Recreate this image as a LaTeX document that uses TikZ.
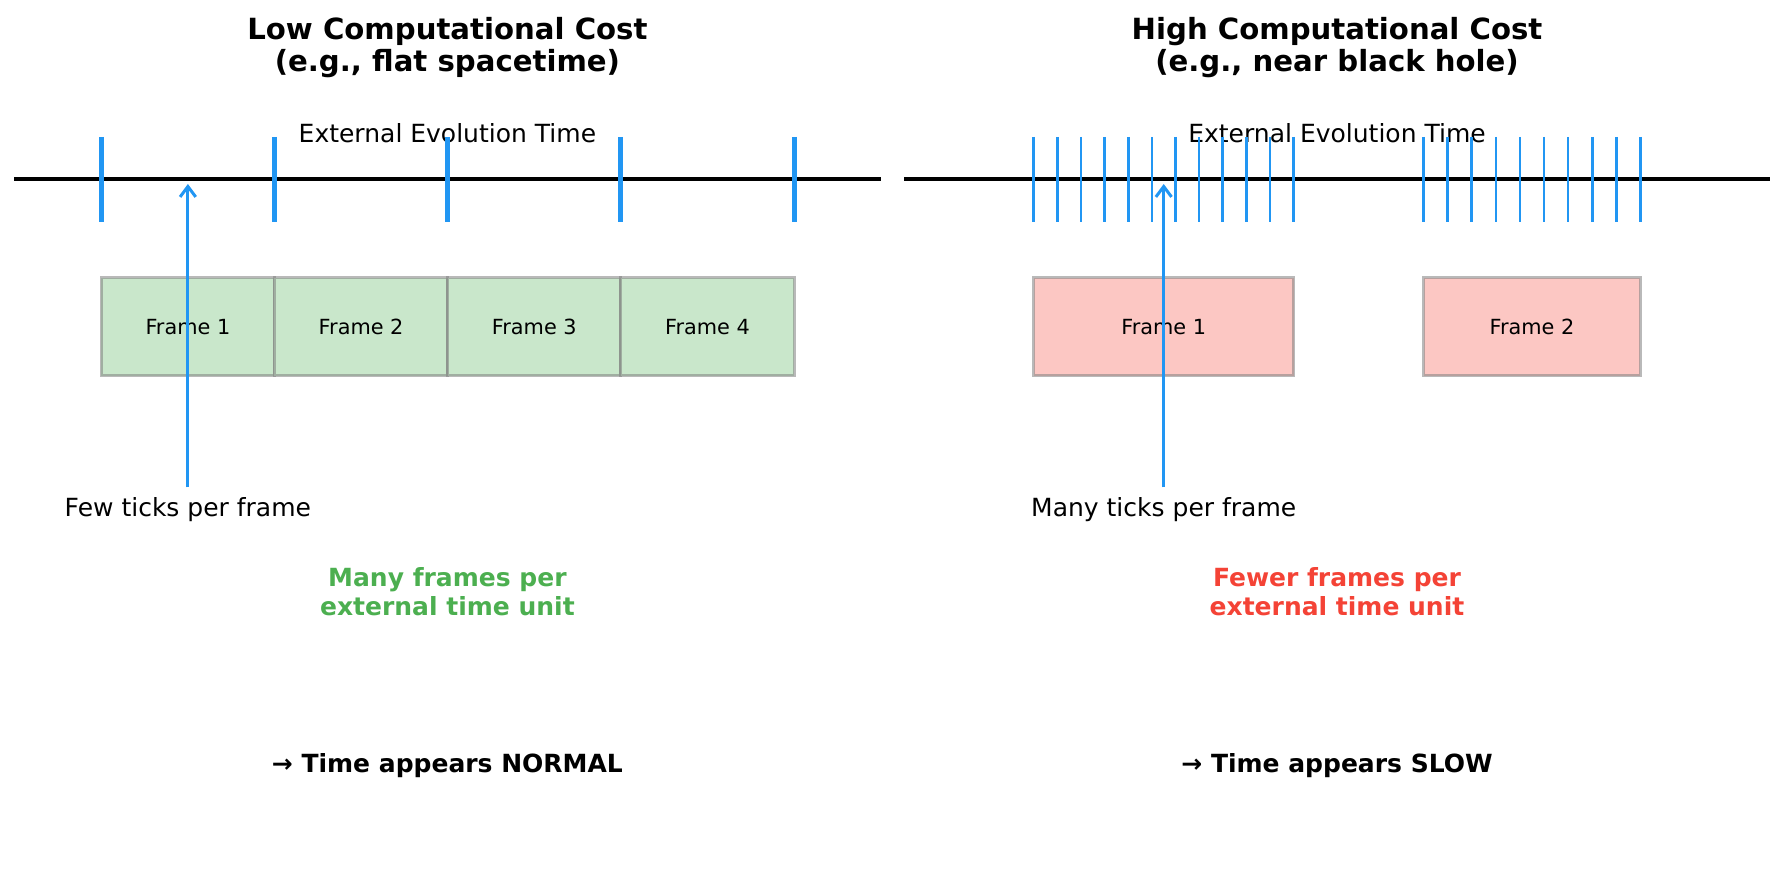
\documentclass[tikz,border=0pt]{standalone}
\usepackage{fontspec}
\setmainfont{DejaVu Sans}
\usetikzlibrary{arrows.meta}

\definecolor{tickblue}{HTML}{2196F3}
\definecolor{cheapgreen}{HTML}{4CAF50}
\definecolor{costred}{HTML}{F44336}

\begin{document}
\begin{tikzpicture}[x=0.48pt, y=-0.48pt,
        timeline/.style={line width=1.45pt, black},
        fattick/.style={line width=2.4pt, tickblue},
        thintick/.style={line width=1.3pt, tickblue},
        framebox/.style={draw=gray, draw opacity=0.55, line width=1.45pt, inner sep=0pt,
            minimum height=47pt, font=\fontsize{10}{12}\selectfont},
        lowframe/.style={framebox, fill=cheapgreen!30, minimum width=83.2pt},
        highframe/.style={framebox, fill=costred!30},
        tickarrow/.style={line width=1.45pt, tickblue, -{Straight Barb[length=5pt,width=7.5pt]}},
        paneltitle/.style={align=center, font=\bfseries\fontsize{14}{15.4}\selectfont},
        plainlabel/.style={font=\fontsize{12}{14}\selectfont},
        verdict/.style={align=center, font=\bfseries\fontsize{12}{13.7}\selectfont}]
        \useasboundingbox (0,0) rectangle (1785,883);

        % Low cost panel
        \node[paneltitle] (lowtitle) at (447.4,47.5) {Low Computational Cost\\(e.g., flat spacetime)};
        \node[plainlabel] (lowtime) at (447.4,133) {External Evolution Time};
        \draw[timeline] (14.2,179) -- (880.6,179);
        \foreach \x in {101.3,274.6,447.4,620.7,794}
            \draw[fattick] (\x,137) -- (\x,222);
        \draw
            (187.9,326.7) node[lowframe] (lf1) {Frame 1}
            (361.1,326.7) node[lowframe] (lf2) {Frame 2}
            (534.3,326.7) node[lowframe] (lf3) {Frame 3}
            (707.5,326.7) node[lowframe] (lf4) {Frame 4};
        \node[plainlabel] (few) at (187.9,510) {Few ticks per frame};
        \coordinate (lowtip) at (187.9,184);
        \draw[tickarrow] ([yshift=1.5pt]few.north) -- (lowtip);
        \node[verdict, text=cheapgreen] (manyframes) at (447.4,591.5) {Many frames per\\external time unit};
        \node[verdict] (normal) at (447.4,766) {→ Time appears NORMAL};

        % High cost panel
        \node[paneltitle] (hightitle) at (1337,47.5) {High Computational Cost\\(e.g., near black hole)};
        \node[plainlabel] (hightime) at (1337,133) {External Evolution Time};
        \draw[timeline] (904,179) -- (1770,179);
        \foreach \i in {0,...,11}
            \draw[thintick] (1033.7+23.63*\i,137) -- (1033.7+23.63*\i,222);
        \foreach \i in {0,...,9}
            \draw[thintick] (1423.6+24.08*\i,137) -- (1423.6+24.08*\i,222);
        \draw
            (1163.7,326.7) node[highframe, minimum width=124.8pt] (hf1) {Frame 1}
            (1532,326.7) node[highframe, minimum width=104pt] (hf2) {Frame 2};
        \node[plainlabel] (manyticks) at (1163.7,510) {Many ticks per frame};
        \coordinate (hightip) at (1163.7,184);
        \draw[tickarrow] ([yshift=1.5pt]manyticks.north) -- (hightip);
        \node[verdict, text=costred] (fewerframes) at (1337,591.5) {Fewer frames per\\external time unit};
        \node[verdict] (slow) at (1337,766) {→ Time appears SLOW};
    \end{tikzpicture}
\end{document}
